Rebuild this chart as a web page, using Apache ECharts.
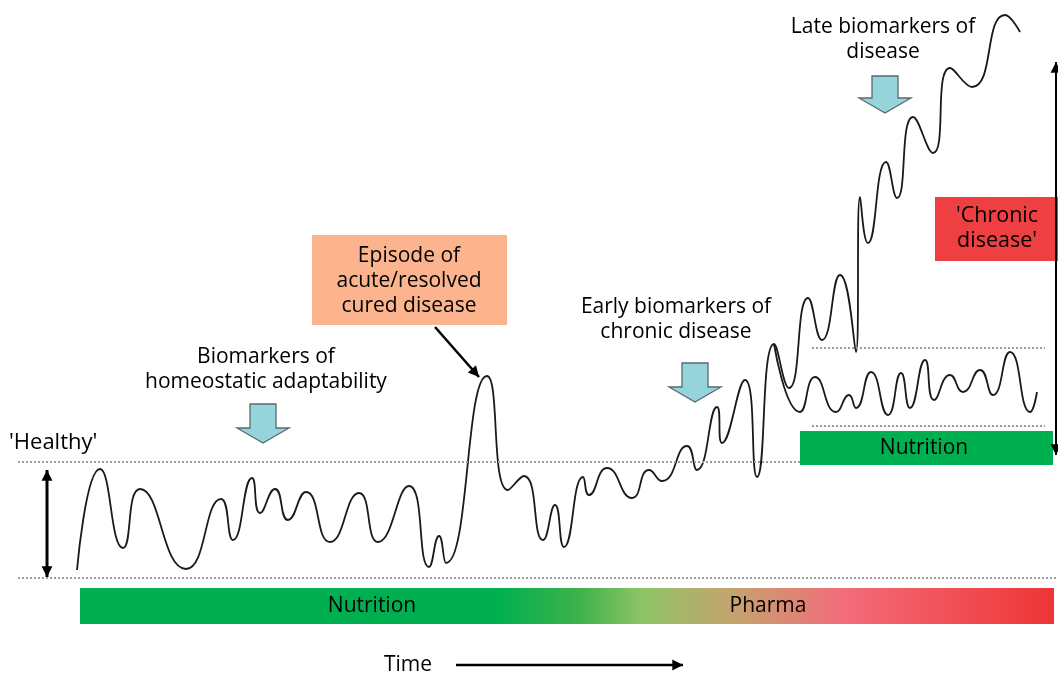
<!DOCTYPE html>
<html>
<head>
<meta charset="utf-8">
<script src="https://cdn.jsdelivr.net/npm/echarts@6/dist/echarts.min.js"></script>
<style>
  html, body { margin: 0; padding: 0; background: #fff; }
  #chart { width: 1058px; height: 673px; }
</style>
</head>
<body>
<div id="chart"></div>
<script>
// time position and level (height above the lower dotted line)
const timeMain = [77, 100, 123, 140, 186, 221, 233, 252, 260, 275, 288, 306, 330, 359, 378, 409, 429, 439, 446, 487,
  508, 524, 543, 555, 564, 583, 589, 607, 632, 649, 662, 687, 697, 717, 722, 745, 757, 774,
  789, 808, 822, 840, 856, 860, 868, 886, 897, 913, 933, 950, 972, 1005, 1020];
const levelMain = [8, 109, 30, 89, 9, 79, 38, 100, 65, 89, 58, 86, 36, 85, 36, 92, 11, 42, 15, 202,
  88, 102, 38, 73, 31, 101, 83, 110, 80, 108, 97, 132, 108, 171, 135, 198, 101, 234,
  190, 280, 238, 303, 226, 381, 335, 416, 380, 461, 425, 510, 491, 563, 546];

// branch kept in range by nutrition
const timeBranch = [774, 800, 815, 836, 849, 856, 871, 888, 901, 910, 925, 934, 950, 963, 980, 993, 1010, 1030, 1037];
const levelBranch = [234, 166, 201, 166, 183, 170, 206, 163, 205, 170, 218, 178, 203, 186, 208, 183, 226, 166, 186];

// reference levels
const floorLevel = 0;
const healthyLevel = 116;
const bandTop = 230;
const bandBottom = 152;

const chart = echarts.init(document.getElementById('chart'));
const FONT = 'Open Sans';

const zip = (xs, ys) => xs.map((x, i) => [x, ys[i]]);

function blockArrow(cx, top, tip) {
  const stem = 13, head = 26, headTop = tip - 15;
  return {
    type: 'polygon', z: 50,
    shape: { points: [[cx - stem, top], [cx + stem, top], [cx + stem, headTop], [cx + head, headTop],
      [cx, tip], [cx - head, headTop], [cx - stem, headTop]] },
    style: { fill: '#95d4da', stroke: '#5a6a6c', lineWidth: 1.3 }
  };
}

function arrowHead(x, y, angle, size) {
  const a1 = angle + Math.PI * 0.85, a2 = angle - Math.PI * 0.85;
  return {
    type: 'polygon', z: 50,
    shape: { points: [[x, y], [x + size * Math.cos(a1), y + size * Math.sin(a1)], [x + size * Math.cos(a2), y + size * Math.sin(a2)]] },
    style: { fill: '#000' }
  };
}

function arrow(x1, y1, x2, y2, w, both) {
  const ang = Math.atan2(y2 - y1, x2 - x1);
  const els = [{ type: 'line', z: 50, shape: { x1, y1, x2, y2 }, style: { stroke: '#000', lineWidth: w } },
    arrowHead(x2, y2, ang, 12)];
  if (both) els.push(arrowHead(x1, y1, ang + Math.PI, 12));
  return els;
}

function label(text, x, y, size) {
  return {
    type: 'text', z: 60, x, y,
    style: { text, fontFamily: FONT, fontSize: size || 21, fill: '#000', align: 'center',
      verticalAlign: 'middle', lineHeight: 25 }
  };
}

const grad = new echarts.graphic.LinearGradient(0, 0, 1, 0, [
  { offset: 0, color: '#00b050' },
  { offset: 0.43, color: '#00b050' },
  { offset: 0.513, color: '#3fb24a' },
  { offset: 0.576, color: '#8cc466' },
  { offset: 0.666, color: '#c4a56e' },
  { offset: 0.783, color: '#f26d7a' },
  { offset: 1, color: '#ee3535' }
]);

const dotted = { type: 'dotted', color: '#9a9a9a', width: 2 };

chart.setOption({
  animation: false,
  grid: { left: 0, right: 0, top: 0, bottom: 0 },
  xAxis: { type: 'value', min: 0, max: 1058, show: false },
  yAxis: { type: 'value', min: -95, max: 578, show: false },
  series: [
    {
      type: 'line', data: zip(timeMain, levelMain), smooth: 0.55, symbol: 'none',
      lineStyle: { color: '#1a1a1a', width: 1.8 },
      markLine: {
        silent: true, symbol: ['none', 'none'], label: { show: false }, lineStyle: dotted,
        data: [
          [{ coord: [18, floorLevel] }, { coord: [1058, floorLevel] }],
          [{ coord: [18, healthyLevel] }, { coord: [800, healthyLevel] }],
          [{ coord: [812, bandTop] }, { coord: [1045, bandTop] }],
          [{ coord: [812, bandBottom] }, { coord: [1045, bandBottom] }]
        ]
      }
    },
    {
      type: 'line', data: zip(timeBranch, levelBranch), smooth: 0.55, symbol: 'none',
      lineStyle: { color: '#1a1a1a', width: 1.8 }
    }
  ],
  graphic: [
    // bottom intervention bar
    { type: 'rect', z: 40, shape: { x: 80, y: 588, width: 974, height: 36 }, style: { fill: grad } },
    label('Nutrition', 372, 606, 21),
    label('Pharma', 768, 606, 21),
    label('Time', 408, 665, 21),
    ...arrow(456, 665, 683, 665, 2.5, false),
    // healthy range
    { type: 'text', z: 60, x: 9, y: 443, style: { text: "'Healthy'", fontFamily: FONT, fontSize: 22, fill: '#000', verticalAlign: 'middle' } },
    ...arrow(47, 470, 47, 577, 3, true),
    // acute episode
    { type: 'rect', z: 40, shape: { x: 312, y: 235, width: 195, height: 90 }, style: { fill: '#fbb48e' } },
    label('Episode of\nacute/resolved\ncured disease', 409, 281),
    ...arrow(435, 327, 479, 377, 2.5, false),
    // biomarkers
    label('Biomarkers of\nhomeostatic adaptability', 266, 370),
    blockArrow(263, 404, 443),
    label('Early biomarkers of\nchronic disease', 676, 320),
    blockArrow(695, 363, 402),
    label('Late biomarkers of\ndisease', 883, 40),
    blockArrow(885, 76, 113),
    // chronic disease
    { type: 'rect', z: 40, shape: { x: 935, y: 197, width: 123, height: 64 }, style: { fill: '#ee4042' } },
    label("'Chronic\ndisease'", 997, 228, 21.5),
    ...arrow(1056, 455, 1056, 62, 2, true),
    { type: 'rect', z: 40, shape: { x: 800, y: 431, width: 253, height: 34 }, style: { fill: '#00b050' } },
    label('Nutrition', 924, 448, 21)
  ]
});
</script>
</body>
</html>
